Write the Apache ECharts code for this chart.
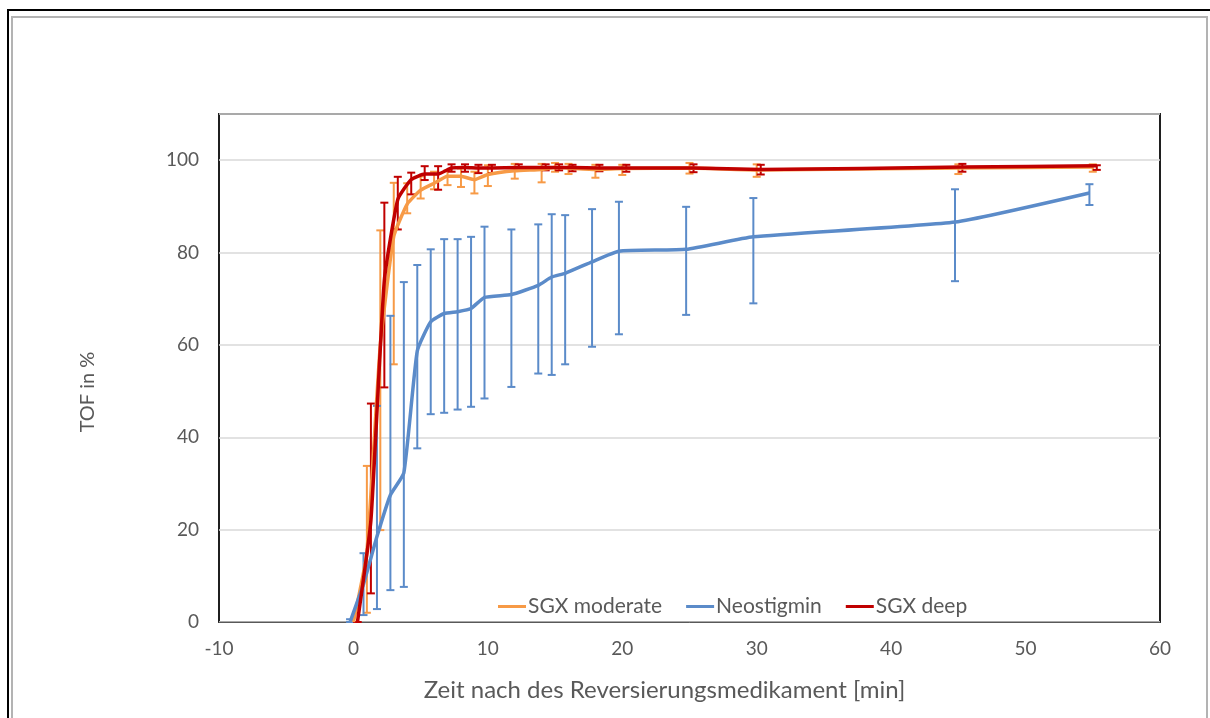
<!DOCTYPE html>
<html>
<head>
<meta charset="utf-8">
<script src="https://cdn.jsdelivr.net/npm/echarts@6/dist/echarts.min.js"></script>
<style>
  html, body { margin: 0; padding: 0; background: #fff; }
  #chart { width: 1210px; height: 718px; position: absolute; left: 0; top: 0; }
  #outer { position: absolute; left: 7px; top: 9px; width: 1220px; height: 730px; border: 2px solid #000; box-sizing: border-box; pointer-events: none; }
  #inner { position: absolute; left: 11px; top: 16px; width: 1197px; height: 730px; border: 2px solid #b3b3b3; box-sizing: border-box; pointer-events: none; }
</style>
</head>
<body>
<div id="chart"></div>
<div id="outer"></div>
<div id="inner"></div>
<script>
// ---- Data ----
const xTickLabels = ['-10', '0', '10', '20', '30', '40', '50', '60'];
const yTickLabels = ['0', '20', '40', '60', '80', '100'];

// SGX moderate
const modX  = [0, 1, 2, 3, 4, 5, 6, 7, 8, 9, 10, 12, 14, 15, 16, 18, 20, 25, 30, 45, 55];
const modY  = [0, 15, 60, 83.5, 90.5, 93.5, 95, 96.5, 96.5, 95.8, 96.9, 97.7, 98, 98.4, 98.3, 98, 98.2, 98.3, 97.9, 98.3, 98.5];
const modLo = [0, 2.0, 19.9, 55.8, 88.5, 91.7, 93.7, 94.6, 94.2, 92.8, 94.4, 96, 95.2, 97.5, 97, 96.2, 96.8, 97.1, 96.4, 97, 97.5];
const modHi = [0, 33.8, 84.8, 95.1, 95, 96.5, 97.5, 97.8, 98.2, 97.5, 98.9, 99.2, 99.2, 99.4, 99.2, 99, 99, 99.4, 99.1, 99.1, 99.1];

// Neostigmin
const neoX  = [-0.25, 0.75, 1.75, 2.75, 3.75, 4.75, 5.75, 6.75, 7.75, 8.75, 9.75, 11.75, 13.75, 14.75, 15.75, 17.75, 19.75, 24.75, 29.75, 44.75, 54.75];
const neoY  = [0, 8.2, 18.5, 27.5, 32.3, 58.7, 65, 66.8, 67.2, 67.9, 70.3, 70.9, 72.9, 74.7, 75.5, 78, 80.3, 80.7, 83.4, 86.6, 92.9];
const neoLo = [0, 1.5, 2.8, 6.9, 7.6, 37.6, 45, 45.3, 46, 46.6, 48.4, 50.9, 53.8, 53.5, 55.8, 59.6, 62.3, 66.5, 69, 73.8, 90.3];
const neoHi = [0.6, 14.9, 46.8, 66.3, 73.6, 77.3, 80.7, 82.9, 82.9, 83.4, 85.6, 85, 86.1, 88.3, 88.1, 89.4, 91, 89.9, 91.8, 93.7, 94.8];

// SGX deep
const deepX  = [0.3, 1.3, 2.3, 3.3, 4.3, 5.3, 6.3, 7.3, 8.3, 9.3, 10.3, 12.3, 14.3, 15.3, 16.3, 18.3, 20.3, 25.3, 30.3, 45.3, 55.3];
const deepY  = [0, 22, 74, 91.5, 95.8, 97, 97, 98.3, 98.4, 98.3, 98.3, 98.4, 98.4, 98.4, 98.4, 98.3, 98.3, 98.3, 98, 98.5, 98.8];
const deepLo = [0, 6.2, 50.8, 85, 92.6, 95.7, 93.6, 97.5, 97.5, 97.2, 97.2, 97.8, 97.8, 97.8, 97.6, 97.6, 97.5, 97.4, 96.9, 97.5, 97.9];
const deepHi = [0, 47.3, 90.8, 96.4, 97.3, 98.7, 98.7, 99.1, 99.1, 99, 99, 99.1, 99.1, 99.1, 99.0, 99.0, 99, 99.1, 99, 99.2, 98.9];

const names = ['SGX moderate', 'Neostigmin', 'SGX deep'];
const colors = ['#F79A46', '#5B8BC9', '#C00000'];

// ---- Build ----
const pairs = (xs, ys) => xs.map((x, i) => [x, ys[i]]);
const triples = (xs, lo, hi) => xs.map((x, i) => [x, lo[i], hi[i]]);

function errRender(color) {
  return function (params, api) {
    const x = api.value(0), lo = api.value(1), hi = api.value(2);
    const p1 = api.coord([x, lo]);
    const p2 = api.coord([x, hi]);
    const cw = 4;
    const st = { stroke: color, lineWidth: 2 };
    return {
      type: 'group',
      children: [
        { type: 'line', shape: { x1: p1[0], y1: p1[1], x2: p2[0], y2: p2[1] }, style: st },
        { type: 'line', shape: { x1: p1[0] - cw, y1: p1[1], x2: p1[0] + cw, y2: p1[1] }, style: st },
        { type: 'line', shape: { x1: p2[0] - cw, y1: p2[1], x2: p2[0] + cw, y2: p2[1] }, style: st }
      ]
    };
  };
}

const groups = [
  { name: names[0], color: colors[0], line: pairs(modX, modY), err: triples(modX, modLo, modHi) },
  { name: names[1], color: colors[1], line: pairs(neoX, neoY), err: triples(neoX, neoLo, neoHi) },
  { name: names[2], color: colors[2], line: pairs(deepX, deepY), err: triples(deepX, deepLo, deepHi) }
];

const series = [];
groups.forEach(g => {
  series.push({
    name: g.name + ' err',
    type: 'custom',
    renderItem: errRender(g.color),
    encode: { x: 0, y: [1, 2] },
    data: g.err,
    silent: true,
    animation: false
  });
  series.push({
    name: g.name,
    type: 'line',
    data: g.line,
    symbol: 'none',
    smooth: 0.15,
    lineStyle: { color: g.color, width: 3.5 },
    itemStyle: { color: g.color },
    animation: false
  });
});

const font = 'Lato';
const txt = '#595959';

const chart = echarts.init(document.getElementById('chart'), null, { renderer: 'canvas' });
chart.setOption({
  backgroundColor: '#fff',
  animation: false,
  grid: {
    left: 219, top: 114, width: 941, height: 508,
    show: true, borderColor: '#1f1f1f', borderWidth: 2,
    containLabel: false
  },
  legend: {
    data: names,
    icon: 'rect',
    left: 493, top: 591,
    itemWidth: 28, itemHeight: 3, itemGap: 24,
    textStyle: { color: txt, fontSize: 21, fontFamily: font, padding: [0, 0, 0, -3] }
  },
  xAxis: {
    type: 'value',
    min: -10, max: 60, interval: 10,
    axisLine: { show: true, onZero: false, lineStyle: { color: '#595959', width: 1 } },
    axisTick: { show: false },
    splitLine: { show: false },
    axisLabel: {
      color: txt, fontSize: 19, fontFamily: font, margin: 17,
      formatter: v => { const i = xTickLabels.indexOf(String(v)); return i >= 0 ? xTickLabels[i] : ''; }
    },
    name: 'Zeit nach des Reversierungsmedikament [min]',
    nameLocation: 'middle', nameGap: 56,
    nameTextStyle: { color: txt, fontSize: 24, fontFamily: font, padding: [0, 50, 0, 0] }
  },
  yAxis: {
    type: 'value',
    min: 0, max: 110, interval: 20,
    axisLine: { show: false },
    axisTick: { show: false },
    splitLine: { show: true, lineStyle: { color: '#d9d9d9', width: 1.5 } },
    axisLabel: {
      color: txt, fontSize: 19, fontFamily: font, margin: 20, showMaxLabel: false,
      formatter: v => { const i = yTickLabels.indexOf(String(v)); return i >= 0 ? yTickLabels[i] : ''; }
    },
    name: 'TOF in %',
    nameLocation: 'middle', nameGap: 121, nameRotate: 90,
    nameTextStyle: { color: txt, fontSize: 20, fontFamily: font, padding: [0, 48, 0, 0] }
  },
  series: series
});
</script>
</body>
</html>
